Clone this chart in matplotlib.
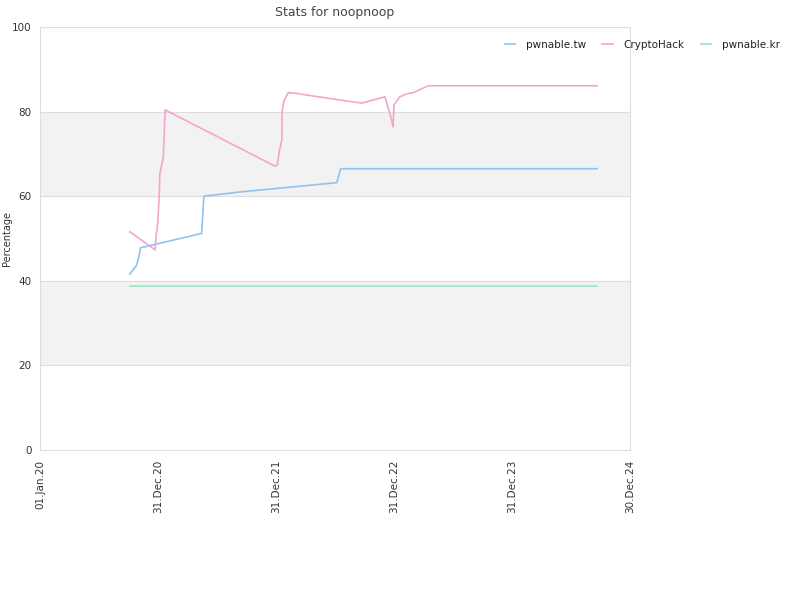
import matplotlib
matplotlib.use("Agg")
import matplotlib.pyplot as plt
import matplotlib.dates as mdates
import numpy as np
from datetime import datetime

tw_dates = ["2020-10-05", "2020-10-26", "2020-11-03", "2020-11-07", "2021-05-15",
            "2021-05-22", "2021-09-11", "2022-07-07", "2022-07-19", "2024-09-19"]
tw_vals = [41.6, 43.7, 46.1, 47.8, 51.2, 60.0, 61.0, 63.2, 66.5, 66.5]

ch_dates = ["2020-10-05", "2020-12-22", "2020-12-25", "2020-12-30", "2021-01-03",
            "2021-01-06", "2021-01-16", "2021-01-19", "2021-01-22", "2021-12-28",
            "2022-01-04", "2022-01-10", "2022-01-18", "2022-01-19", "2022-01-25",
            "2022-02-07", "2022-03-05", "2022-04-15", "2022-06-16", "2022-09-22",
            "2022-12-03", "2022-12-24", "2022-12-28", "2022-12-31", "2023-01-18",
            "2023-02-08", "2023-03-01", "2023-04-16", "2024-09-19"]
ch_vals = [51.6, 47.3, 50.4, 53.6, 59.1, 65.4, 69.0, 74.1, 80.4, 67.1,
           67.4, 70.5, 73.3, 80.0, 82.6, 84.5, 84.3, 83.8, 83.1, 82.0,
           83.5, 78.0, 76.4, 81.6, 83.5, 84.2, 84.5, 86.1, 86.1]

kr_dates = ["2020-10-05", "2024-09-19"]
kr_vals = [38.8, 38.8]

tick_dates = ["2020-01-01", "2020-12-31", "2021-12-31", "2022-12-31", "2023-12-31", "2024-12-30"]
series_names = ["pwnable.tw", "CryptoHack", "pwnable.kr"]
colors = ["#90c2f0", "#f4a5cd", "#96e6c6"]

def d(lst):
    return [datetime.strptime(s, "%Y-%m-%d") for s in lst]

fig = plt.figure(figsize=(8, 6), dpi=100)
ax = fig.add_axes([0.05, 0.25, 0.7375, 0.705])

for lo, hi in [(20, 40), (60, 80)]:
    ax.axhspan(lo, hi, color="#f2f2f2", zorder=0, lw=0)
for y in [20, 40, 60, 80, 100]:
    ax.axhline(y, color="#dddddd", lw=0.8, zorder=1)

for dates, vals, name, c in zip([tw_dates, ch_dates, kr_dates],
                                [tw_vals, ch_vals, kr_vals], series_names, colors):
    ax.plot(d(dates), vals, color=c, lw=1.2, label=name, zorder=3)

ax.set_xlim(d(["2020-01-01"])[0], d(["2024-12-30"])[0])
ax.set_ylim(0, 100)
ax.set_yticks([0, 20, 40, 60, 80, 100])
ax.set_xticks(d(tick_dates))
ax.xaxis.set_major_formatter(mdates.DateFormatter("%d.%b.%y"))
for lbl in ax.get_xticklabels():
    lbl.set_rotation(90)
ax.tick_params(axis="both", labelsize=7.5, colors="#333333", length=0, pad=6)
ax.tick_params(axis="x", pad=7)
for sp in ax.spines.values():
    sp.set_color("#dddddd")
    sp.set_linewidth(0.8)

ax.set_ylabel("Percentage", fontsize=7, color="#333333")
ax.yaxis.set_label_coords(-0.047, 0.5)
ax.set_title("Stats for noopnoop", fontsize=9, color="#444444", pad=8)

leg = fig.legend(loc="center left", bbox_to_anchor=(0.631, 0.925), ncol=3, frameon=False,
                 fontsize=7.5, handlelength=1.0, columnspacing=1.6, handletextpad=1.0,
                 borderaxespad=0, borderpad=0)
for t in leg.get_texts():
    t.set_color("#222222")

fig.savefig("out.png", dpi=100)
